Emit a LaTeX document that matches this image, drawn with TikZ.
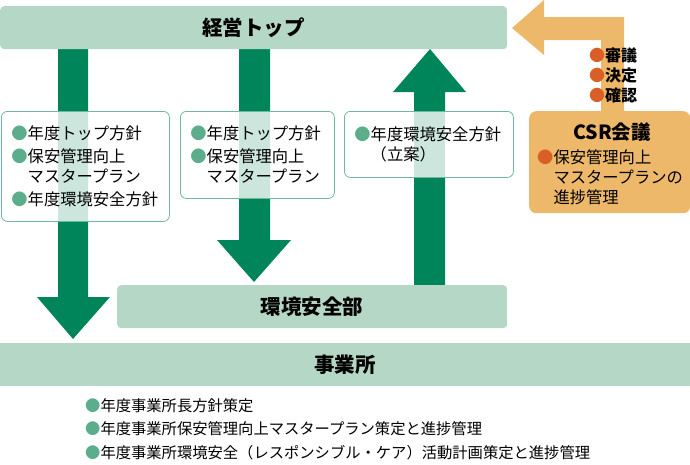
\documentclass[tikz,border=0pt]{standalone}
\usepackage{fontspec}
\setmainfont{Noto Sans CJK JP}
\definecolor{panelgreen}{HTML}{B4D7C6}
\definecolor{arrowgreen}{HTML}{00855A}
\definecolor{memoline}{HTML}{6DBA98}
\definecolor{dotgreen}{HTML}{5BAD8B}
\definecolor{csrorange}{HTML}{EEB86A}
\definecolor{dotorange}{HTML}{D95F26}
\newcommand{\gdot}{{\color{dotgreen}●}}
\newcommand{\orgdot}{{\color{dotorange}●}}
\newcommand{\ind}{\hspace*{1em}}

\tikzset{
	panel/.style={fill=panelgreen, rounded corners=4pt, inner sep=0pt, anchor=north west, font=\fontsize{20.5}{22}\selectfont\bfseries},
	memo/.style={draw=memoline, line width=0.8pt, fill=white, fill opacity=0.8, text opacity=1, rounded corners=6pt, anchor=north west, inner xsep=10pt, inner ysep=0pt, align=left, font=\fontsize{16.3}{20.5}\selectfont},
	blockarrow/.style={fill=arrowgreen},
}

\begin{document}
\begin{tikzpicture}[x=1pt,y=-1pt]
	\useasboundingbox (0,0) rectangle (690,464);
	%green arrows
		\fill[blockarrow] (58,49) -- (88,49) -- (88,297) -- (110,297) -- (73,339) -- (37,297) -- (58,297) -- cycle;
		\fill[blockarrow] (239,49) -- (270,49) -- (270,240) -- (291,240) -- (254,282) -- (217,240) -- (239,240) -- cycle;
		\fill[blockarrow] (414,285) -- (445,285) -- (445,92) -- (466,92) -- (430,49) -- (393,92) -- (414,92) -- cycle;
	%orange arrow
		\fill[csrorange] (624,111) -- (624,17) -- (544,17) -- (544,0) -- (512,28) -- (544,55) -- (544,40) -- (601,40) -- (601,111) -- cycle;
	%main boxes
		\node[panel, minimum width=507pt, minimum height=43pt] (top) at (0,6) {経営トップ};
		\node[panel, minimum width=390pt, minimum height=43pt] (dept) at (117,285) {環境安全部};
		\node[panel, rounded corners=0pt, minimum width=690pt, minimum height=43pt] (site) at (0,343) {事業所};
	%memo boxes
		\node[memo, text width=148pt, minimum height=110pt] (memoa) at (1,111) {\gdot 年度トップ方針\\[2pt]
			\gdot 保安管理向上\\ \ind マスタープラン\\[2pt]
			\gdot 年度環境安全方針};
		\node[memo, text width=134pt, minimum height=87pt] (memob) at (180,111) {\gdot 年度トップ方針\\[2pt]
			\gdot 保安管理向上\\ \ind マスタープラン};
		\node[memo, text width=149pt, minimum height=66pt] (memoc) at (344,111) {\gdot 年度環境安全方針\\ \ind（立案）};
	%CSR
		\node[fill=csrorange, rounded corners=7pt, anchor=north west, minimum width=161pt, minimum height=102pt] (csr) at (529,111) {};
		\node[font=\fontsize{19.5}{20}\selectfont\bfseries] (csrtitle) at (612,132) {CSR会議};
		\node[anchor=north west, inner sep=0pt, align=left, font=\fontsize{16.3}{20}\selectfont] (csrnote) at (537,150) {\orgdot 保安管理向上\\ \ind マスタープランの\\ \ind 進捗管理};
		\node[anchor=west, inner sep=0pt, align=left, font=\fontsize{16}{20}\selectfont\bfseries] (check) at (589,75) {\orgdot 審議\\ \orgdot 決定\\ \orgdot 確認};
	%site list
		\node[anchor=west, inner sep=0pt, align=left, font=\fontsize{15.3}{23.5}\selectfont] (sitelist) at (85,429) {\gdot 年度事業所長方針策定\\
			\gdot 年度事業所保安管理向上マスタープラン策定と進捗管理\\
			\gdot 年度事業所環境安全（レスポンシブル・ケア）活動計画策定と進捗管理};
\end{tikzpicture}
\end{document}
